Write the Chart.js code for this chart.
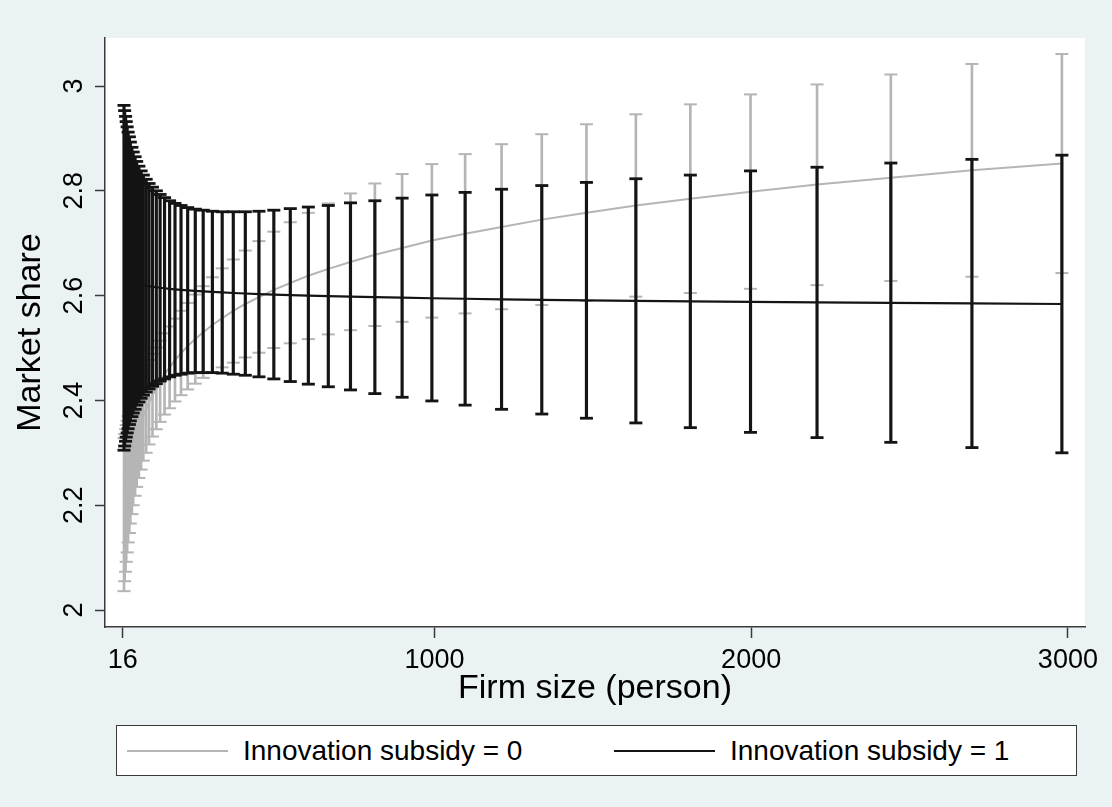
<!DOCTYPE html>
<html>
<head>
<meta charset="utf-8">
<title>Market share by firm size</title>
<script src="https://cdn.jsdelivr.net/npm/chart.js@4.4.1/dist/chart.umd.min.js"></script>
<style>
  html, body { margin: 0; padding: 0; background: #eaf2f3; }
  #wrap { position: relative; width: 1112px; height: 807px; }
  #legend {
    position: absolute; left: 116px; top: 725px; width: 961px; height: 51px;
    box-sizing: border-box; border: 1.5px solid #3a3a3a; background: #fff;
    display: flex; align-items: center;
    font-family: "Liberation Sans", Arial, sans-serif; font-size: 28px; color: #000;
  }
  #legend .item { display: flex; align-items: center; width: 487px; flex: none; }
  #legend .swatch { display: inline-block; width: 101px; height: 0; border-top: 2px solid; margin-left: 10px; margin-right: 15px; }
</style>
</head>
<body>
<div id="wrap">
  <canvas id="chart" width="1112" height="807"></canvas>
  <div id="legend"></div>
</div>
<script>
// Firm size (persons) at which the margins are evaluated
const firmSize = [20, 22, 25, 27, 30, 33, 37, 40, 45, 49, 55, 60, 67, 74, 81, 90, 99, 110, 122, 134,
  148, 164, 181, 200, 221, 245, 270, 299, 330, 365, 403, 446, 493, 545, 602, 665, 735, 812, 898, 992,
  1097, 1212, 1339, 1480, 1636, 1808, 1998, 2208, 2441, 2697, 2981];

// Innovation subsidy = 0: predicted market share and 95% CI
const noSubsidyMean = [2.182, 2.195, 2.209, 2.222, 2.236, 2.249, 2.262, 2.276, 2.289, 2.303, 2.316, 2.329,
  2.343, 2.356, 2.370, 2.383, 2.396, 2.410, 2.423, 2.437, 2.450, 2.463, 2.477, 2.490, 2.504, 2.517, 2.530,
  2.544, 2.557, 2.571, 2.584, 2.597, 2.611, 2.624, 2.638, 2.651, 2.664, 2.678, 2.691, 2.705, 2.718, 2.731,
  2.745, 2.758, 2.772, 2.785, 2.798, 2.812, 2.825, 2.839, 2.852];
const noSubsidyLow = [2.036, 2.055, 2.073, 2.092, 2.110, 2.129, 2.147, 2.165, 2.183, 2.200, 2.218, 2.235,
  2.252, 2.268, 2.285, 2.300, 2.316, 2.331, 2.345, 2.359, 2.373, 2.385, 2.398, 2.410, 2.421, 2.432, 2.443,
  2.453, 2.463, 2.472, 2.482, 2.491, 2.500, 2.509, 2.517, 2.526, 2.534, 2.542, 2.550, 2.558, 2.566, 2.574,
  2.582, 2.590, 2.598, 2.605, 2.613, 2.620, 2.628, 2.636, 2.643];
const noSubsidyHigh = [2.328, 2.336, 2.345, 2.353, 2.361, 2.370, 2.378, 2.387, 2.396, 2.405, 2.414, 2.424,
  2.434, 2.444, 2.455, 2.466, 2.477, 2.489, 2.501, 2.514, 2.528, 2.541, 2.556, 2.571, 2.586, 2.602, 2.618,
  2.635, 2.652, 2.669, 2.686, 2.704, 2.722, 2.740, 2.758, 2.776, 2.795, 2.814, 2.832, 2.851, 2.870, 2.889,
  2.908, 2.927, 2.946, 2.965, 2.984, 3.003, 3.022, 3.042, 3.061];

// Innovation subsidy = 1: predicted market share and 95% CI
const subsidyMean = [2.634, 2.633, 2.632, 2.631, 2.630, 2.629, 2.628, 2.627, 2.626, 2.625, 2.624, 2.623,
  2.622, 2.621, 2.620, 2.619, 2.618, 2.617, 2.616, 2.615, 2.614, 2.613, 2.612, 2.611, 2.610, 2.609, 2.608,
  2.607, 2.606, 2.605, 2.604, 2.603, 2.602, 2.601, 2.600, 2.599, 2.598, 2.597, 2.596, 2.595, 2.594, 2.593,
  2.592, 2.591, 2.590, 2.589, 2.588, 2.587, 2.586, 2.585, 2.584];
const subsidyLow = [2.305, 2.313, 2.322, 2.330, 2.338, 2.346, 2.354, 2.361, 2.369, 2.376, 2.383, 2.391,
  2.397, 2.404, 2.410, 2.416, 2.422, 2.427, 2.432, 2.437, 2.441, 2.445, 2.448, 2.450, 2.452, 2.453, 2.453,
  2.453, 2.452, 2.450, 2.448, 2.445, 2.441, 2.436, 2.431, 2.426, 2.420, 2.413, 2.406, 2.399, 2.391, 2.383,
  2.374, 2.366, 2.357, 2.348, 2.339, 2.329, 2.320, 2.310, 2.300];
const subsidyHigh = [2.963, 2.953, 2.942, 2.932, 2.922, 2.912, 2.903, 2.893, 2.883, 2.874, 2.865, 2.856,
  2.847, 2.838, 2.830, 2.822, 2.814, 2.807, 2.800, 2.793, 2.787, 2.781, 2.776, 2.772, 2.768, 2.765, 2.763,
  2.761, 2.760, 2.760, 2.760, 2.761, 2.763, 2.766, 2.769, 2.772, 2.777, 2.781, 2.786, 2.792, 2.797, 2.803,
  2.810, 2.816, 2.823, 2.830, 2.838, 2.845, 2.853, 2.860, 2.868];

// Axis tick labels
const xTickValues = [16, 1000, 2000, 3000];
const yTickValues = [2, 2.2, 2.4, 2.6, 2.8, 3];

const seriesNames = ['Innovation subsidy = 0', 'Innovation subsidy = 1'];
const GRAY = '#b5b5b5';
const DARK = '#141414';
const AXIS = '#3a3a3a';
const FONT = '"Liberation Sans", Arial, sans-serif';

const points = (ys) => firmSize.map((x, i) => ({ x, y: ys[i] }));
const ranges = (lo, hi) => firmSize.map((x, i) => ({ x, y: [lo[i], hi[i]] }));
const caps = (lo, hi) => points(lo).concat(points(hi));

// Light page background with a white plot region
const backdrop = {
  id: 'backdrop',
  beforeDraw(chart) {
    const { ctx, chartArea: a } = chart;
    ctx.save();
    ctx.fillStyle = '#eaf2f3';
    ctx.fillRect(0, 0, chart.width, chart.height);
    ctx.fillStyle = '#ffffff';
    ctx.fillRect(a.left, a.top, a.right - a.left, a.bottom - a.top);
    ctx.restore();
  }
};

// Boxed legend under the axis title, built from the two line datasets
const htmlLegend = {
  id: 'htmlLegend',
  afterUpdate(chart) {
    const box = document.getElementById('legend');
    box.innerHTML = '';
    const items = Chart.defaults.plugins.legend.labels.generateLabels(chart)
      .filter(it => chart.data.datasets[it.datasetIndex].type === 'line')
      .sort((a, b) => a.datasetIndex - b.datasetIndex);
    items.forEach(it => {
      const item = document.createElement('div');
      item.className = 'item';
      const sw = document.createElement('span');
      sw.className = 'swatch';
      sw.style.borderTopColor = it.strokeStyle;
      sw.style.borderTopWidth = it.lineWidth + 'px';
      const tx = document.createElement('span');
      tx.textContent = it.text;
      item.append(sw, tx);
      box.append(item);
    });
  }
};

Chart.defaults.font.family = FONT;
Chart.defaults.color = '#000';

new Chart(document.getElementById('chart'), {
  type: 'line',
  data: {
    datasets: [
      { type: 'line', label: seriesNames[0], data: points(noSubsidyMean), borderColor: GRAY, backgroundColor: GRAY,
        borderWidth: 2, pointRadius: 0, tension: 0, order: 4 },
      { type: 'line', label: seriesNames[1], data: points(subsidyMean), borderColor: DARK, backgroundColor: DARK,
        borderWidth: 2.2, pointRadius: 0, tension: 0, order: 1 },
      { type: 'bar', label: 'CI 0', data: ranges(noSubsidyLow, noSubsidyHigh), backgroundColor: GRAY,
        barThickness: 2, grouped: false, borderWidth: 0, order: 6 },
      { type: 'scatter', label: 'CI caps 0', data: caps(noSubsidyLow, noSubsidyHigh), pointStyle: 'line',
        pointRadius: 6.5, pointBorderWidth: 2, pointBorderColor: GRAY, borderColor: GRAY, order: 5 },
      { type: 'bar', label: 'CI 1', data: ranges(subsidyLow, subsidyHigh), backgroundColor: DARK,
        barThickness: 2.5, grouped: false, borderWidth: 0, order: 3 },
      { type: 'scatter', label: 'CI caps 1', data: caps(subsidyLow, subsidyHigh), pointStyle: 'line',
        pointRadius: 6.5, pointBorderWidth: 2.8, pointBorderColor: DARK, borderColor: DARK, order: 2 }
    ]
  },
  options: {
    responsive: false,
    devicePixelRatio: 1,
    animation: false,
    events: [],
    layout: { padding: { left: 0, top: 38, right: 27, bottom: 98 } },
    plugins: {
      legend: { display: false },
      tooltip: { enabled: false }
    },
    scales: {
      x: {
        type: 'linear', min: -40, max: 3054, offset: false,
        afterFit(s) { s.height = 82; },
        afterBuildTicks(s) { s.ticks = xTickValues.map(v => ({ value: v })); },
        ticks: { callback: v => String(v), font: { size: 27 }, color: '#000', padding: 6,
          maxRotation: 0, autoSkip: false },
        grid: { offset: false, drawOnChartArea: false, drawTicks: true, tickLength: 11, tickWidth: 1.5, tickColor: AXIS },
        border: { display: true, color: AXIS, width: 1.5 },
        title: { display: true, text: 'Firm size (person)', font: { size: 34 }, color: '#000',
          padding: { top: 0, bottom: 0 } }
      },
      y: {
        type: 'linear', min: 1.9676, max: 3.0916,
        afterFit(s) { s.width = 105; },
        afterBuildTicks(s) { s.ticks = yTickValues.map(v => ({ value: v })); },
        ticks: { callback: v => String(v), font: { size: 27 }, color: '#000', padding: 2,
          minRotation: 90, maxRotation: 90, crossAlign: 'center' },
        grid: { offset: false, drawOnChartArea: false, drawTicks: true, tickLength: 10, tickWidth: 1.5, tickColor: AXIS },
        border: { display: true, color: AXIS, width: 1.5 },
        title: { display: true, text: 'Market share', font: { size: 34 }, color: '#000',
          padding: { top: 10, bottom: 0 } }
      }
    }
  },
  plugins: [backdrop, htmlLegend]
});
</script>
</body>
</html>
